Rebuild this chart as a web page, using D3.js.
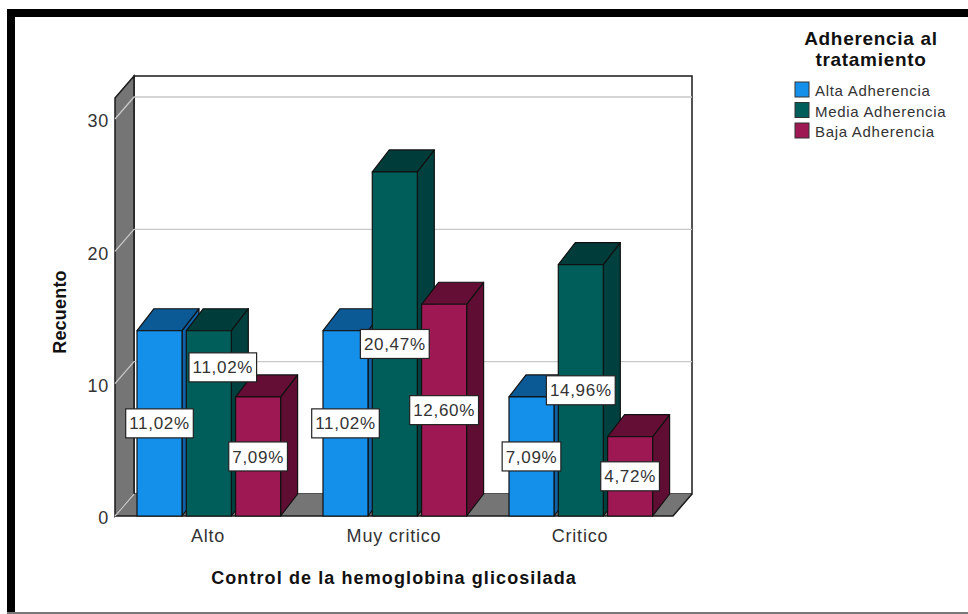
<!DOCTYPE html>
<html>
<head>
<meta charset="utf-8">
<script src="https://cdn.jsdelivr.net/npm/d3@7"></script>
<style>
  html, body { margin: 0; padding: 0; background: #fff; }
  svg { display: block; font-family: "Liberation Sans", Arial, sans-serif; }
  .domain { display: none; }
  .tick line { display: none; }
  .tick text { font-size: 18px; letter-spacing: 0.8px; fill: #333; font-family: "Liberation Sans", Arial, sans-serif; }
</style>
</head>
<body>
<div id="chart"></div>
<script>
var categories = ["Alto", "Muy critico", "Critico"];
var seriesNames = ["Alta Adherencia", "Media Adherencia", "Baja Adherencia"];
var altaValues = [14, 14, 9];
var mediaValues = [14, 26, 19];
var bajaValues = [9, 16, 6];
var altaLabels = ["11,02%", "11,02%", "7,09%"];
var mediaLabels = ["11,02%", "20,47%", "14,96%"];
var bajaLabels = ["7,09%", "12,60%", "4,72%"];
var yTicks = [0, 10, 20, 30];

var seriesValues = [altaValues, mediaValues, bajaValues];
var seriesLabels = [altaLabels, mediaLabels, bajaLabels];
var front = ["#1490ea", "#005e5a", "#9e1854"];
var topc = ["#0b5a96", "#003c3a", "#640e35"];
var side = ["#0d62a8", "#00403e", "#5f0d32"];
var dx = 19, dy = -22, barDx = 17;

var svg = d3.select("#chart").append("svg")
    .attr("width", 968)
    .attr("height", 614);

// frame of the original screenshot
svg.append("rect").attr("x", 7).attr("y", 9).attr("width", 961).attr("height", 8).attr("fill", "#000");
svg.append("rect").attr("x", 7).attr("y", 9).attr("width", 8).attr("height", 603).attr("fill", "#000");
svg.append("rect").attr("x", 7).attr("y", 612).attr("width", 961).attr("height", 2).attr("fill", "#777");

var x = d3.scaleBand().domain(categories).range([115, 673]);
var y = d3.scaleLinear().domain([0, 30]).range([516, 119]);
var inner = d3.scaleBand().domain(seriesNames).range([22, 165.6]).paddingInner(0.087);

var yMax = y.invert(98);
var x0 = x.range()[0], x1 = x.range()[1];
var wallColor = "#757575", edge = "#1a1a1a";

function pts(a) { return a.map(function(p) { return p.join(","); }).join(" "); }

// back wall
svg.append("polygon")
    .attr("points", pts([[x0 + dx, y(yMax) + dy], [x1 + dx, y(yMax) + dy], [x1 + dx, y(0) + dy], [x0 + dx, y(0) + dy]]))
    .attr("fill", "#fff").attr("stroke", edge).attr("stroke-width", 1.5);

// left wall
svg.append("polygon")
    .attr("points", pts([[x0, y(yMax)], [x0 + dx, y(yMax) + dy], [x0 + dx, y(0) + dy], [x0, y(0)]]))
    .attr("fill", wallColor).attr("stroke", edge).attr("stroke-width", 1.5);

// floor
svg.append("polygon")
    .attr("points", pts([[x0, y(0)], [x0 + dx, y(0) + dy], [x1 + dx, y(0) + dy], [x1, y(0)]]))
    .attr("fill", wallColor);
svg.append("path")
    .attr("d", "M" + x0 + "," + y(0) + "L" + x1 + "," + y(0) + "L" + (x1 + dx) + "," + (y(0) + dy))
    .attr("fill", "none").attr("stroke", edge).attr("stroke-width", 1.5);

// gridlines, they bend over the left wall
yTicks.forEach(function(t) {
  var d = "M" + x0 + "," + y(t) + "L" + (x0 + dx) + "," + (y(t) + dy);
  if (t > 0) d += "L" + (x1 + dx) + "," + (y(t) + dy);
  svg.append("path").attr("d", d).attr("fill", "none").attr("stroke", "#c8c8c8").attr("stroke-width", 1.3);
});

// bars
categories.forEach(function(cat, c) {
  seriesNames.forEach(function(name, s) {
    var v = seriesValues[s][c];
    var bx = x(cat) + inner(name), w = inner.bandwidth(), by = y(v), b = y(0);
    var g = svg.append("g").attr("stroke", "#111").attr("stroke-width", 1.2).attr("stroke-linejoin", "round");
    g.append("polygon")
        .attr("points", pts([[bx + w, by], [bx + w + barDx, by + dy], [bx + w + barDx, b + dy], [bx + w, b]]))
        .attr("fill", side[s]);
    g.append("polygon")
        .attr("points", pts([[bx, by], [bx + barDx, by + dy], [bx + w + barDx, by + dy], [bx + w, by]]))
        .attr("fill", topc[s]);
    g.append("rect")
        .attr("x", bx).attr("y", by).attr("width", w).attr("height", b - by)
        .attr("fill", front[s]);
  });
});

// labels go on top of every bar
categories.forEach(function(cat, c) {
  seriesNames.forEach(function(name, s) {
    var v = seriesValues[s][c];
    var cx = x(cat) + inner(name) + inner.bandwidth() / 2;
    var cy = y(v / 2);
    // the first teal label is pushed aside in the original so it clears its neighbour
    if (c === 0 && s === 1) { cx += 14; cy -= 56; }
    var txt = seriesLabels[s][c];
    var g = svg.append("g").attr("transform", "translate(" + cx + "," + cy + ")");
    var r = g.append("rect").attr("fill", "#fff").attr("stroke", "#222").attr("stroke-width", 1.2);
    var t = g.append("text")
        .attr("text-anchor", "middle").attr("dy", "0.36em")
        .style("font-size", "17px").style("letter-spacing", "0.7px").style("fill", "#333")
        .text(txt);
    var w = t.node().getComputedTextLength();
    r.attr("x", -w / 2 - 3.5).attr("y", -14.5).attr("width", w + 7).attr("height", 29);
  });
});

// axes
svg.append("g")
    .attr("transform", "translate(" + x0 + ",2)")
    .call(d3.axisLeft(y).tickValues(yTicks).tickSize(0).tickPadding(6));

svg.append("g")
    .attr("transform", "translate(0,516)")
    .call(d3.axisBottom(x).tickSize(0).tickPadding(13));

svg.append("text")
    .attr("x", 394).attr("y", 584)
    .attr("text-anchor", "middle")
    .style("font-size", "18px").style("letter-spacing", "1.1px").style("font-weight", "bold").style("fill", "#111")
    .text("Control de la hemoglobina glicosilada");

svg.append("text")
    .attr("transform", "translate(66,312) rotate(-90)")
    .attr("text-anchor", "middle")
    .style("font-size", "18px").style("letter-spacing", "0.2px").style("font-weight", "bold").style("fill", "#111")
    .text("Recuento");

// legend
var legendTitle = ["Adherencia al", "tratamiento"];
legendTitle.forEach(function(l, i) {
  svg.append("text")
      .attr("x", 871).attr("y", 45 + i * 21)
      .attr("text-anchor", "middle")
      .style("font-size", "19px").style("letter-spacing", "0.7px").style("font-weight", "bold").style("fill", "#111")
      .text(l);
});
seriesNames.forEach(function(name, s) {
  svg.append("rect")
      .attr("x", 795).attr("y", 82 + s * 20.5).attr("width", 14).attr("height", 15)
      .attr("fill", front[s]).attr("stroke", "#333").attr("stroke-width", 1);
  svg.append("text")
      .attr("x", 815).attr("y", 96 + s * 20.5)
      .style("font-size", "15px").style("letter-spacing", "0.7px").style("fill", "#333")
      .text(name);
});
</script>
</body>
</html>
